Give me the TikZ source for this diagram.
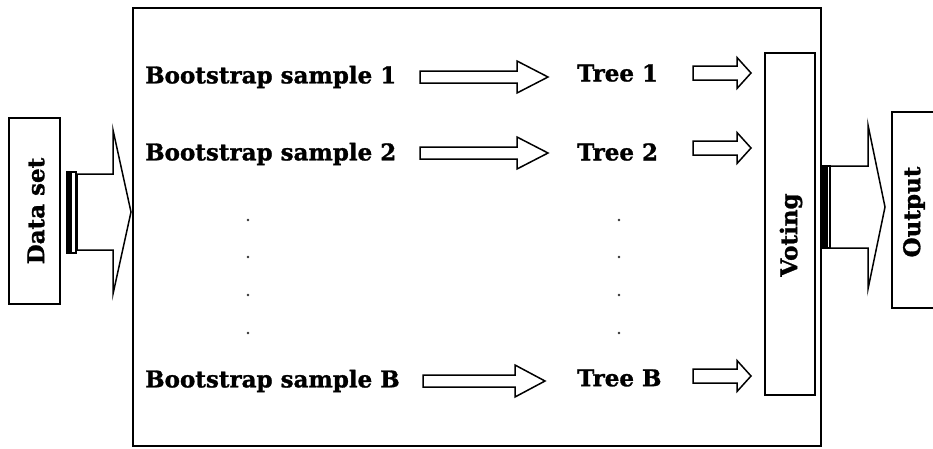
\documentclass[tikz,border=0pt]{standalone}
\usepackage{fontspec}
\setmainfont{DejaVu Serif}[BoldFeatures={FakeBold=1.2}]
% block arrow: start x, head base x, tip x, centre y, shaft half width, head half width
\newcommand\blockarrow[7][]{%
  \draw[arrowline,#1] (#2,#5-#6) -- (#3,#5-#6) -- (#3,#5-#7) -- (#4,#5)
    -- (#3,#5+#7) -- (#3,#5+#6) -- (#2,#5+#6) -- cycle;}
\begin{document}
\begin{tikzpicture}[x=1pt,y=-1pt,
  frame/.style={draw,line width=2.2pt},
  boxline/.style={draw,line width=1.4pt},
  arrowline/.style={line width=1.5pt,line join=miter},
  lbl/.style={font=\fontsize{23}{27}\selectfont\bfseries,inner sep=0pt,anchor=west},
  vlbl/.style={font=\fontsize{23}{27}\selectfont\bfseries,inner sep=0pt,rotate=90},
  dot/.style={fill=black!80,radius=1.4pt}]
\useasboundingbox (0,0) rectangle (933,448);
\clip (0,0) rectangle (933,448);

% outer frame of the ensemble
\draw[frame] (133,8) rectangle (821,446);

% input data set
\draw[boxline] (9,118) rectangle (60,304);
\node[vlbl] (data) at (36,211) {Data set};
\fill (67,172) rectangle (71.5,253);
\draw[line width=1.1pt] (67,172) rectangle (76,253);
\blockarrow{77}{113}{131}{212}{38}{82}

% bootstrap samples and trees
\node[lbl] (s1) at (145,77) {Bootstrap sample 1};
\node[lbl] (s2) at (145,154) {Bootstrap sample 2};
\node[lbl] (sB) at (145,381) {Bootstrap sample B};
\node[lbl] (t1) at (577,73) {Tree 1};
\node[lbl] (t2) at (577,152) {Tree 2};
\node[lbl] (tB) at (577,378) {Tree B};

\blockarrow{420}{517}{548}{77}{6}{16}
\blockarrow{420}{517}{548}{153}{6}{16}
\blockarrow{423}{515}{545}{381}{6}{16}

\blockarrow{693}{737}{751}{73}{7}{15.5}
\blockarrow{693}{737}{751}{148}{7}{15.5}
\blockarrow{693}{737}{751}{376}{7}{15.5}

% vertical ellipsis dots
\foreach \y in {220,257,295,333}{
  \fill[dot] (248,\y) circle;
  \fill[dot] (619,\y) circle;
}

% voting
\draw[boxline] (765,53) rectangle (815,395);
\node[vlbl] (vote) at (791,235) {Voting};

% output
\fill (823,166) rectangle (827.5,248);
\draw[line width=1.1pt] (823,166) rectangle (830,248);
\blockarrow{830}{868}{885}{207}{41}{82}
\draw[boxline] (892,112) rectangle (945,308);
\node[vlbl] (out) at (914,212) {Output};
\end{tikzpicture}
\end{document}
